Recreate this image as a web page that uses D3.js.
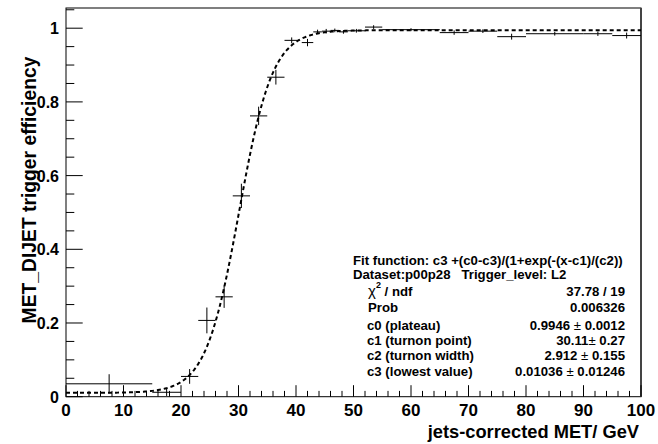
<!DOCTYPE html>
<html><head><meta charset="utf-8">
<script src="https://cdn.jsdelivr.net/npm/d3@7"></script>
<style>
body{margin:0;background:#fff}
svg{display:block}
text{font-family:"Liberation Sans",Arial,Helvetica,sans-serif;font-weight:bold;fill:#000}
</style>
</head><body>
<svg id="c" width="658" height="444"></svg>
<script>
// ---- data ----
const binLow    = [0, 15, 20, 23, 26, 29, 32, 35, 38, 41, 43, 44.5, 46, 47.5, 49, 52, 55, 65, 70, 75, 80, 90, 95];
const binHigh   = [15, 20, 23, 26, 29, 32, 35, 38, 40.5, 43, 44.5, 46, 47.5, 49, 52, 55, 65, 70, 75, 80, 90, 95, 100];
const binCenter = [7.5, 17.5, 21.5, 24.5, 27.5, 30.5, 33.5, 36.5, 39.25, 42, 43.75, 45.25, 46.75, 48.25, 50.5, 53.5, 60, 67.5, 72.5, 77.5, 85, 92.5, 97.5];
const efficiency= [0.035, 0.012, 0.055, 0.207, 0.271, 0.545, 0.762, 0.867, 0.967, 0.961, 0.990, 0.992, 0.994, 0.990, 0.993, 1.003, 0.996, 0.988, 0.992, 0.977, 0.985, 0.985, 0.980];
const effError  = [0.026, 0.010, 0.020, 0.035, 0.030, 0.033, 0.025, 0.020, 0.008, 0.010, 0.006, 0.006, 0.005, 0.005, 0.005, 0.005, 0.004, 0.006, 0.005, 0.008, 0.005, 0.006, 0.008];

const xTickValues = [0, 10, 20, 30, 40, 50, 60, 70, 80, 90, 100];
const yTickValues = [0, 0.2, 0.4, 0.6, 0.8, 1];
const yTickLabels = ["0", "0.2", "0.4", "0.6", "0.8", "1"];

// fit: c3 + (c0-c3)/(1+exp(-(x-c1)/c2))
const fitParamNames  = ["c0 (plateau)", "c1 (turnon point)", "c2 (turnon width)", "c3 (lowest value)"];
const fitParamValues = [0.9946, 30.11, 2.912, 0.01036];
const fitParamText   = ["0.9946", "30.11", "2.912", "0.01036"];
const fitParamErrText= ["0.0012", "0.27", "0.155", "0.01246"];
const fitChi2Text = "37.78 / 19";
const fitProbText = "0.006326";

const xTitle = "jets-corrected MET/ GeV";
const yTitle = "MET_DIJET trigger efficiency";
const fitLine = "Fit function: c3 +(c0-c3)/(1+exp(-(x-c1)/(c2))";
const datasetLine = "Dataset:p00p28   Trigger_level: L2";

// ---- layout ----
const svg = d3.select("#c");
const L = 66, R = 641, T = 8, B = 396.7;
const x = d3.scaleLinear().domain([0, 100]).range([L, R]);
const y = d3.scaleLinear().domain([0, 1.0548]).range([B, T]);

// frame
svg.append("rect").attr("x", L).attr("y", T).attr("width", R - L).attr("height", B - T)
  .attr("fill", "none").attr("stroke", "#000").attr("stroke-width", 1);
svg.append("line").attr("x1", R).attr("x2", R).attr("y1", T).attr("y2", B)
  .attr("stroke", "#444").attr("stroke-width", 2);

// x axis ticks (inside, upwards)
const xMinor = d3.range(0, 100.001, 2);
svg.append("g").selectAll("line").data(xMinor).join("line")
  .attr("x1", d => x(d)).attr("x2", d => x(d))
  .attr("y1", B).attr("y2", d => B - (d % 10 === 0 ? 11.5 : 5.8))
  .attr("stroke", "#000").attr("stroke-width", 1);
svg.append("g").selectAll("text").data(xTickValues).join("text")
  .attr("x", d => x(d)).attr("y", 416).attr("text-anchor", "middle")
  .attr("font-size", 17).text(d => d);

// y axis ticks (inside, rightwards)
const yMinor = d3.range(0, 1.0501, 0.05);
svg.append("g").selectAll("line").data(yMinor).join("line")
  .attr("x1", L).attr("x2", (d, i) => L + (i % 4 === 0 ? 16.7 : 8.3))
  .attr("y1", d => y(d)).attr("y2", d => y(d))
  .attr("stroke", "#000").attr("stroke-width", 1);
svg.append("g").selectAll("text").data(yTickValues).join("text")
  .attr("x", 59).attr("y", d => y(d) + 6).attr("text-anchor", "end")
  .attr("font-size", 16).text((d, i) => yTickLabels[i]);

// axis titles
svg.append("text").attr("x", 639).attr("y", 438).attr("text-anchor", "end")
  .attr("font-size", 18.3).text(xTitle);
svg.append("text").attr("transform", "translate(36," + 190 + ") rotate(-90)")
  .attr("text-anchor", "middle").attr("font-size", 19.3).text(yTitle);

// data points with error bars
const pts = svg.append("g").attr("stroke", "#000").attr("stroke-width", 1);
binCenter.forEach((c, i) => {
  pts.append("line").attr("x1", x(binLow[i])).attr("x2", x(binHigh[i]))
    .attr("y1", y(efficiency[i])).attr("y2", y(efficiency[i]));
  pts.append("line").attr("x1", x(c)).attr("x2", x(c))
    .attr("y1", y(efficiency[i] - effError[i])).attr("y2", y(efficiency[i] + effError[i]));
});

// fit curve
const [c0, c1, c2, c3] = fitParamValues;
const fitX = d3.range(0, 100.001, 0.25);
const line = d3.line().x(d => x(d)).y(d => y(c3 + (c0 - c3) / (1 + Math.exp(-(d - c1) / c2))));
svg.append("path").datum(fitX).attr("d", line).attr("fill", "none")
  .attr("stroke", "#000").attr("stroke-width", 2).attr("stroke-dasharray", "4,3");

// stats box text
const st = svg.append("g").attr("font-size", 13.2);
st.append("text").attr("x", 353).attr("y", 265).text(fitLine);
st.append("text").attr("x", 353).attr("y", 278.5).style("white-space", "pre").text(datasetLine);

const lx = 367, vx = 625;
const chi = st.append("text").attr("x", lx + 1).attr("y", 296);
chi.append("tspan").attr("font-weight", "normal").attr("font-size", 15).text("χ");
chi.append("tspan").attr("dy", -8).attr("font-size", 9).text("2");
chi.append("tspan").attr("dy", 8).text(" / ndf");
st.append("text").attr("x", vx).attr("y", 296).attr("text-anchor", "end").text(fitChi2Text);
st.append("text").attr("x", lx + 1).attr("y", 312).text("Prob");
st.append("text").attr("x", vx).attr("y", 312).attr("text-anchor", "end").text(fitProbText);

const rowY = [329.5, 344.5, 360, 375.5];
fitParamNames.forEach((n, i) => {
  st.append("text").attr("x", lx).attr("y", rowY[i]).text(n);
  const t = st.append("text").attr("x", vx).attr("y", rowY[i]).attr("text-anchor", "end");
  t.append("tspan").text(fitParamText[i] + (i === 1 ? "" : " "));
  t.append("tspan").attr("font-weight", "normal").text("±");
  t.append("tspan").text(" " + fitParamErrText[i]);
});
</script>
</body></html>
